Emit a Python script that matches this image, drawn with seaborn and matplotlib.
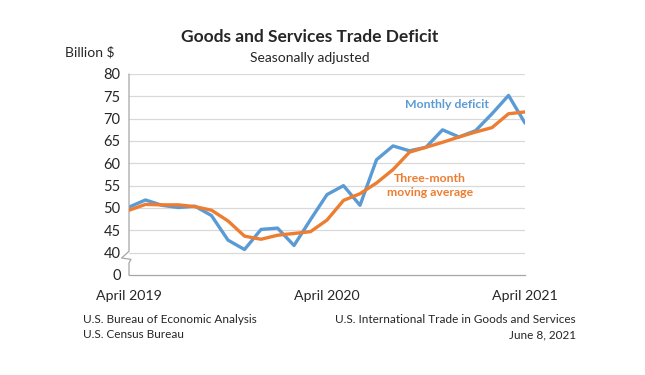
import pandas as pd
import matplotlib.pyplot as plt
import seaborn as sns
import numpy as np

months = pd.date_range('2019-04-01', '2021-04-01', freq='MS')
monthly_deficit = [50.2, 51.8, 50.6, 50.1, 50.4, 48.3, 42.8, 40.7, 45.2, 45.5, 41.6, 47.4,
                   53.0, 55.0, 50.6, 60.8, 63.9, 62.8, 63.6, 67.5, 65.9, 67.3, 71.1, 75.2, 69.0]
moving_avg = [49.5, 50.8, 50.7, 50.7, 50.3, 49.5, 47.1, 43.7, 43.0, 43.9, 44.3, 44.7,
              47.3, 51.7, 53.2, 55.6, 58.6, 62.5, 63.6, 64.7, 65.9, 67.0, 68.0, 71.1, 71.5]
tick_labels = ['April 2019', 'April 2020', 'April 2021']
y_ticks = [40, 45, 50, 55, 60, 65, 70, 75, 80]

BLUE = '#5B9BD5'
ORANGE = '#ED7D31'
GREY = '#A6A6A6'

df = pd.DataFrame({'idx': np.arange(len(months)),
                   'Monthly deficit': monthly_deficit,
                   'Three-month moving average': moving_avg})
long_df = df.melt(id_vars='idx', var_name='series', value_name='value')

sns.set_style('white')
plt.rcParams['font.family'] = ['Lato', 'DejaVu Sans']

fig = plt.figure(figsize=(6.45, 3.75), dpi=100)
ax = fig.add_axes([0.2, 0.2667, 0.614, 0.536])

sns.lineplot(data=long_df, x='idx', y='value', hue='series',
             palette={'Monthly deficit': BLUE, 'Three-month moving average': ORANGE},
             hue_order=['Monthly deficit', 'Three-month moving average'],
             linewidth=2.4, legend=False, ax=ax)
ax.lines[1].set_zorder(3)

ax.set_xlim(0, len(months) - 1)
ax.set_ylim(35, 80)
ax.set_yticks([35] + y_ticks)
ax.set_yticklabels(['0'] + [str(v) for v in y_ticks], fontsize=10.5)
for v in y_ticks:
    ax.axhline(v, color='#D9D9D9', lw=0.9, zorder=0)

ax.set_xticks(np.arange(len(months)))
ax.set_xticklabels([''] * len(months))
ax.tick_params(axis='x', direction='out', length=5, color=GREY, width=0.9)
ax.tick_params(axis='y', length=0, pad=6)
for i, lab in zip([0, 12, 24], tick_labels):
    ax.text(i, -0.075, lab, transform=ax.get_xaxis_transform(), ha='center', va='top', fontsize=10.2)

ax.set_xlabel('')
ax.set_ylabel('')
for s in ['top', 'right', 'left']:
    ax.spines[s].set_visible(False)
ax.spines['bottom'].set_color(GREY)
ax.spines['bottom'].set_linewidth(0.9)

# left axis line with break marker
bx = [0, 0, -0.45, 0.12, 0, 0]
by = [80, 40.3, 38.8, 38.5, 37.7, 35]
ax.plot(bx, by, color=GREY, lw=0.9, clip_on=False, zorder=2)

ax.text(19.27, 73.1, 'Monthly deficit', color=BLUE, fontsize=8.8, fontweight='bold', ha='center', va='center')
ax.text(18.24, 55.0, 'Three-month\nmoving average', color=ORANGE, fontsize=8.8, fontweight='bold',
        ha='center', va='center', linespacing=1.35)

fig.text(0.48, 0.9, 'Goods and Services Trade Deficit', ha='center', va='center', fontsize=12.5, fontweight='bold')
fig.text(0.48, 0.845, 'Seasonally adjusted', ha='center', va='center', fontsize=10)
fig.text(0.178, 0.862, 'Billion $', ha='right', va='center', fontsize=10)

fig.text(0.128, 0.149, 'U.S. Bureau of Economic Analysis', ha='left', va='center', fontsize=8.5)
fig.text(0.128, 0.107, 'U.S. Census Bureau', ha='left', va='center', fontsize=8.5)
fig.text(0.893, 0.149, 'U.S. International Trade in Goods and Services', ha='right', va='center', fontsize=8.5)
fig.text(0.893, 0.107, 'June 8, 2021', ha='right', va='center', fontsize=8.5)

fig.savefig('out.png', dpi=100)
